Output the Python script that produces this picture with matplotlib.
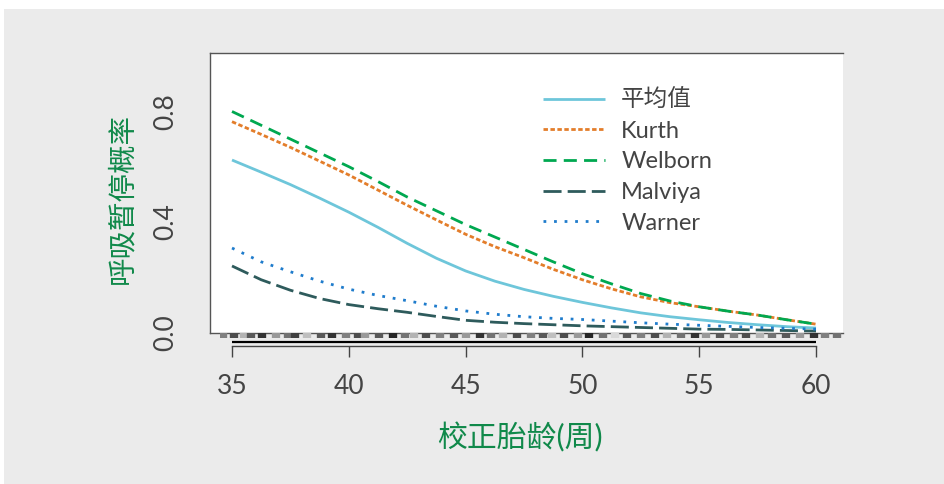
import matplotlib
matplotlib.use('Agg')
import matplotlib.pyplot as plt
from matplotlib.patches import Rectangle

plt.rcParams['font.family'] = ['Lato', 'Noto Sans CJK SC', 'DejaVu Sans']

# ---- data ----
age = [35, 36.25, 37.5, 38.75, 40, 41.25, 42.5, 43.75, 45, 46.25, 47.5,
       48.75, 50, 51.25, 52.5, 53.75, 55, 56.25, 57.5, 58.75, 60]
mean_p = [0.624, 0.580, 0.535, 0.486, 0.435, 0.380, 0.322, 0.268, 0.222, 0.185, 0.155,
          0.130, 0.108, 0.088, 0.070, 0.056, 0.045, 0.035, 0.027, 0.020, 0.015]
kurth = [0.763, 0.717, 0.670, 0.620, 0.570, 0.515, 0.460, 0.407, 0.355, 0.310, 0.270,
         0.228, 0.190, 0.157, 0.128, 0.107, 0.092, 0.076, 0.062, 0.045, 0.029]
welborn = [0.800, 0.750, 0.700, 0.650, 0.600, 0.546, 0.490, 0.440, 0.390, 0.345, 0.300,
           0.255, 0.212, 0.175, 0.140, 0.113, 0.092, 0.076, 0.062, 0.045, 0.029]
malviya = [0.240, 0.190, 0.152, 0.122, 0.100, 0.085, 0.072, 0.057, 0.043, 0.036, 0.031,
           0.027, 0.023, 0.020, 0.017, 0.014, 0.011, 0.010, 0.008, 0.006, 0.004]
warner = [0.305, 0.255, 0.219, 0.185, 0.156, 0.133, 0.114, 0.094, 0.077, 0.065, 0.056,
          0.050, 0.046, 0.040, 0.034, 0.029, 0.025, 0.021, 0.017, 0.014, 0.011]

series_names = ['平均值', 'Kurth', 'Welborn', 'Malviya', 'Warner']
x_ticks = [35, 40, 45, 50, 55, 60]
y_ticks = [0.0, 0.4, 0.8]
y_tick_labels = ['0.0', '0.4', '0.8']
x_label = '校正胎龄(周)'
y_label = '呼吸暂停概率'

# observed ages shown as rug (approximate) and their grey shade
rug_age = [34.6, 35.1, 35.5, 35.8, 36.3, 36.9, 37.4, 37.7, 38.2, 38.8, 39.3, 39.9,
           40.4, 40.7, 41.3, 41.9, 42.4, 42.8, 43.3, 43.9, 44.5, 45.0, 45.6, 46.1,
           46.6, 47.2, 47.8, 48.3, 48.7, 49.2, 49.8, 50.3, 50.9, 51.4, 51.9, 52.5,
           53.1, 53.6, 54.2, 54.8, 55.3, 55.9, 56.5, 57.0, 57.6, 58.1, 58.7, 59.3,
           59.9, 60.4, 60.9]
rug_shade = [0.5, 0.3, 0.7, 0.35, 0.2, 0.6, 0.45, 0.25, 0.75, 0.35, 0.2, 0.5,
             0.3, 0.6, 0.35, 0.15, 0.45, 0.7, 0.3, 0.5, 0.35, 0.6, 0.2, 0.45,
             0.7, 0.3, 0.5, 0.35, 0.75, 0.3, 0.6, 0.15, 0.45, 0.85, 0.35, 0.5,
             0.3, 0.7, 0.45, 0.2, 0.6, 0.35, 0.5, 0.3, 0.7, 0.45, 0.35, 0.6,
             0.2, 0.5, 0.45]

colors = ['#6ec6da', '#e37d2a', '#00a850', '#2e5b5c', '#1f7ccc']
styles = ['-', (0, (1.6, 0.9)), (0, (4.7, 2.6)), (0, (6.5, 2.2)), (0, (1.0, 2.8))]
all_series = [mean_p, kurth, welborn, malviya, warner]

W, H = 944, 484
fig = plt.figure(figsize=(W / 100, H / 100), dpi=100)
fig.patch.set_facecolor('white')
fig.patches.append(Rectangle((4 / W, 0), 1 - 4 / W, 1 - 9 / H, transform=fig.transFigure,
                             facecolor='#ebebeb', edgecolor='none', zorder=-10))

ax = fig.add_axes([210 / W, 1 - 333 / H, 633 / W, 280 / H])
ax.set_facecolor('white')
ax.set_xlim(34.058, 61.156)
ax.set_ylim(-0.003, 1.012)

for y, c, ls, name in zip(all_series, colors, styles, series_names):
    ax.plot(age, y, color=c, linestyle=ls, lw=2.0, label=name,
            dash_capstyle='butt', solid_capstyle='butt')

ax.spines['right'].set_visible(False)
for s in ['left', 'top']:
    ax.spines[s].set_color('#555555')
    ax.spines[s].set_linewidth(1.0)
ax.spines['bottom'].set_position(('outward', 9.4))
ax.spines['bottom'].set_bounds(35, 60)
ax.spines['bottom'].set_color('#444444')
ax.spines['bottom'].set_linewidth(1.0)
ax.plot([0, 1], [0, 0], transform=ax.transAxes, color='#555555', lw=1.0, clip_on=False)

ax.set_xticks(x_ticks)
ax.set_xticklabels([str(t) for t in x_ticks])
ax.tick_params(axis='x', direction='out', length=7.9, width=1.0, color='#444444',
               labelsize=19, labelcolor='#444444', pad=12)
ax.set_yticks(y_ticks)
ax.set_yticklabels(y_tick_labels, rotation=90, va='center')
ax.tick_params(axis='y', length=0, labelsize=19, labelcolor='#444444', pad=23)

fig.text(122 / W, 1 - 199 / H, y_label, rotation=90, ha='center', va='center',
         fontsize=20.5, color='#10894a')
fig.text(520 / W, 1 - 437 / H, x_label, ha='center', va='center',
         fontsize=21.5, color='#10894a')

leg = ax.legend(loc='upper left', bbox_to_anchor=(543 / W, 1 - 89 / H),
                bbox_transform=fig.transFigure, frameon=False, borderpad=0,
                borderaxespad=0, handlelength=2.63, handletextpad=0.68,
                labelspacing=0.41, fontsize=17)
for t in leg.get_texts():
    t.set_color('#444444')

# rug strip under the panel
rax = fig.add_axes([220 / W, 1 - 344 / H, 625 / W, 11 / H])
rax.set_facecolor('white')
rax.set_xlim(34.486, 61.241)
rax.set_ylim(0, 11)
for xv, sh in zip(rug_age, rug_shade):
    rax.vlines(xv, 6, 11, color=str(sh), lw=6.0)
rax.hlines(2.2, 35, 60, color='black', lw=1.6)
rax.set_axis_off()
rax.patch.set_visible(True)

fig.savefig('out.png', dpi=100)
